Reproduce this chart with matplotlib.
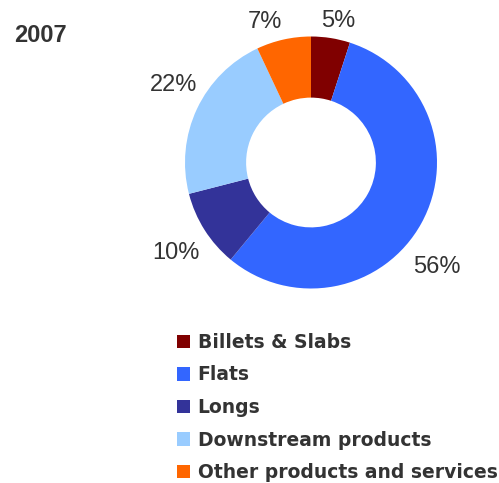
import numpy as np
import matplotlib
matplotlib.use("Agg")
import matplotlib.pyplot as plt

categories = ["Billets & Slabs", "Flats", "Longs", "Downstream products", "Other products and services"]
values = [5, 56, 10, 22, 7]
colors = ["#800000", "#3366FF", "#333399", "#99CCFF", "#FF6600"]
title = "2007"

plt.rcParams['font.family'] = ['Liberation Sans', 'DejaVu Sans']
W, H = 499, 483
fig = plt.figure(figsize=(W / 100, H / 100), dpi=100)

cx, cy, R = 311, 162.5, 126
ax = fig.add_axes([(cx - R) / W, 1 - (cy + R) / H, 2 * R / W, 2 * R / H])

wedges, _ = ax.pie(values, colors=colors, startangle=90, counterclock=False,
                   radius=1, wedgeprops=dict(width=0.485, linewidth=0))
ax.set_xlim(-1, 1)
ax.set_ylim(-1, 1)
ax.axis('off')

# label placement (distance from centre, angular offset) per slice
dists = [1.14, 1.30, 1.29, 1.25, 1.175]
offsets = [-2, -11, 1.5, -4.3, 5.4]
for w, v, d, off in zip(wedges, values, dists, offsets):
    ang = np.deg2rad((w.theta1 + w.theta2) / 2 + off)
    ax.text(d * np.cos(ang), d * np.sin(ang), f"{v}%", ha='center', va='center',
            fontsize=17, color='#333333')

fig.text(14 / W, 1 - 35 / H, title, fontsize=17, fontweight='bold', color='#333333',
         ha='left', va='center')

leg = fig.legend(wedges, categories, loc='upper left', bbox_to_anchor=(177 / W, 1 - 333 / H),
                 frameon=False, handlelength=0.7, handleheight=0.7, handletextpad=0.4,
                 labelspacing=0.72, borderaxespad=0, borderpad=0,
                 prop=dict(size=13.5, weight='bold', family='DejaVu Sans'))
for t in leg.get_texts():
    t.set_color('#333333')

fig.savefig("out.png", dpi=100)
